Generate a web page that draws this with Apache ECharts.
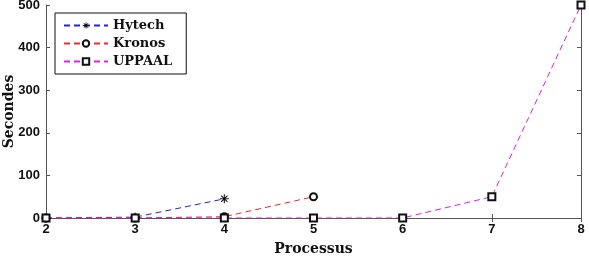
<!DOCTYPE html>
<html><head><meta charset="utf-8">
<script src="https://cdn.jsdelivr.net/npm/echarts@6/dist/echarts.min.js"></script>
<style>html,body{margin:0;padding:0;background:#fff}#c{width:589px;height:262px}</style>
</head><body><div id="c"></div>
<script>
const xCats = [2, 3, 4, 5, 6, 7, 8];
const hytech = [[2, 0], [3, 2], [4, 45]];
const kronos = [[2, 0], [3, 0], [4, 3], [5, 50]];
const uppaal = [[2, 0], [3, 0], [4, 0], [5, 0], [6, 0], [7, 50], [8, 500]];
const yTicks = [0, 100, 200, 300, 400, 500];

const star = 'path://M4.4 0 L5.6 0 L5.6 10 L4.4 10 Z M0 4.4 L10 4.4 L10 5.6 L0 5.6 Z M1.9 1.1 L8.9 8.1 L8.1 8.9 L1.1 1.9 Z M8.1 1.1 L8.9 1.9 L1.9 8.9 L1.1 8.1 Z';
const serif = '"DejaVu Serif","Liberation Serif",serif';
const sans = '"Liberation Sans",Arial,sans-serif';
const chart = echarts.init(document.getElementById('c'));
const axisCommon = {
  axisLine: {lineStyle: {color: '#555', width: 1}},
  axisTick: {inside: true, length: 4, lineStyle: {color: '#555'}},
  splitLine: {show: false}
};
function mk(name, data, color, symbol, size, filled) {
  return {
    name, type: 'line', data, symbol, symbolSize: size, showAllSymbol: true,
    lineStyle: {color, type: [6, 4], width: 1},
    itemStyle: filled ? {color: '#111', borderWidth: 0} : {color: '#111', borderColor: '#111', borderWidth: 1},
    emphasis: {disabled: true}, animation: false
  };
}
chart.setOption({
  animation: false,
  grid: {left: 46, right: 8, top: 5, bottom: 44, outerBoundsMode: 'none', containLabel: false},
  legend: {
    left: 55, top: 13, orient: 'vertical', padding: [6, 14, 6, 8],
    backgroundColor: '#fff', borderColor: '#111', borderWidth: 1,
    itemWidth: 44, itemHeight: 8, itemGap: 5,
    textStyle: {fontFamily: serif, fontWeight: 'bold', fontSize: 13, color: '#111'},
    data: ['Hytech', 'Kronos', 'UPPAAL']
  },
  xAxis: [
    Object.assign({type: 'value', min: 2, max: 8, interval: 1,
      name: 'Processus', nameLocation: 'middle', nameGap: 24, nameMoveOverlap: false,
      nameTextStyle: {fontFamily: serif, fontWeight: 'bold', fontSize: 14, color: '#111'},
      axisLabel: {fontFamily: sans, fontWeight: 'bold', fontSize: 13, color: '#111', margin: 5}}, axisCommon),
    Object.assign({type: 'value', min: 2, max: 8, interval: 1, position: 'top',
      axisLabel: {show: false}}, axisCommon)
  ],
  yAxis: [
    Object.assign({type: 'value', min: 0, max: 500, interval: 100,
      name: 'Secondes', nameLocation: 'middle', nameGap: 30, nameMoveOverlap: false,
      nameTextStyle: {fontFamily: serif, fontWeight: 'bold', fontSize: 14, color: '#111'},
      axisLabel: {fontFamily: sans, fontWeight: 'bold', fontSize: 13, color: '#111', margin: 6,
        formatter: v => yTicks.includes(v) ? String(v) : ''}}, axisCommon),
    Object.assign({type: 'value', min: 0, max: 500, interval: 100, position: 'right',
      axisLabel: {show: false}}, axisCommon)
  ],
  series: [
    mk('Hytech', hytech, '#2323d8', star, 9, true),
    mk('Kronos', kronos, '#ee2a2a', 'emptyCircle', 7, false),
    mk('UPPAAL', uppaal, '#e020e0', 'emptyRect', 7, false)
  ]
});
</script></body></html>
